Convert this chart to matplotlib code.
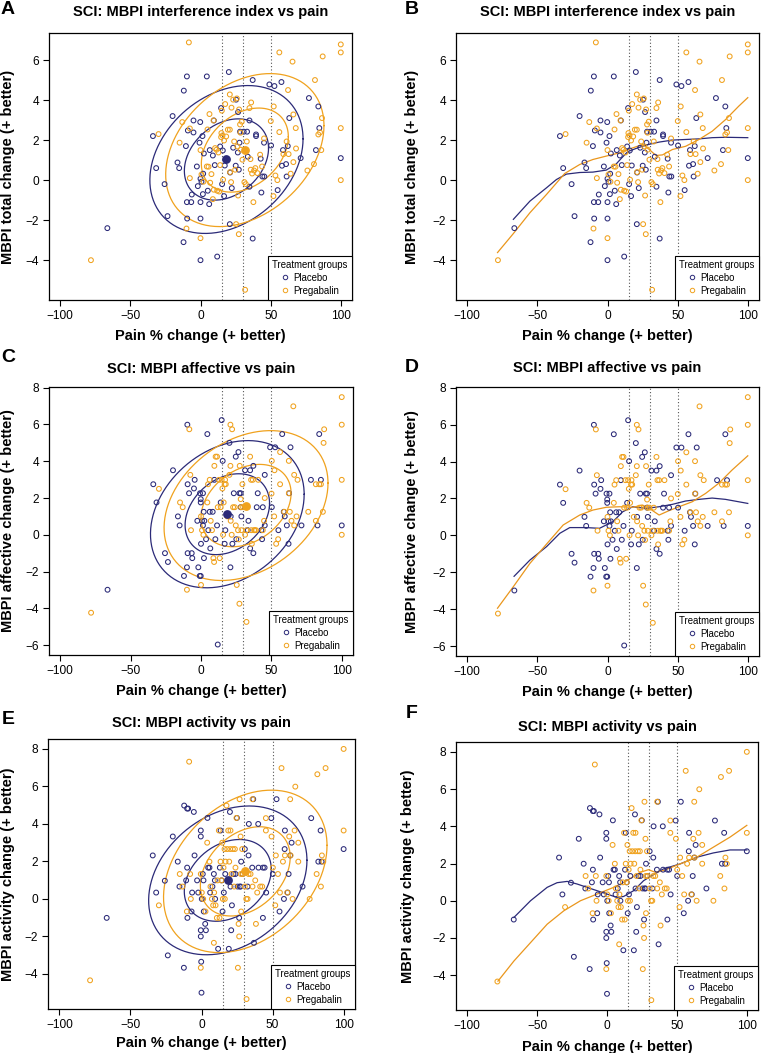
import numpy as np
import matplotlib
matplotlib.use("Agg")
import matplotlib.pyplot as plt
from matplotlib.lines import Line2D

plt.rcParams['font.family'] = ['Liberation Sans', 'DejaVu Sans']

NAVY = '#2b2a78'
ORANGE = '#f0a21e'
ORANGE_LINE = '#ea961c'

# ---- data: interference index (panels A, B) ----
int_pla_x = [-66.4, -33.9, -31.6, -25.6, -23.5, -19.9, -16.4, -15.2, -12.1, -11.9, -10.4, -9.7, -9.7, -9.5, -9.0,
             -6.6, -6.2, -5.0, -5.0, -2.6, -1.9, -0.7, -0.2, 0, 0, 0, 0, 0.7, 1.4, 1.7, 1.9, 2.4, 4.5, 5.2, 6.2,
             6.6, 8.8, 9.5, 10.2, 11.9, 14.0, 14.7, 15.4, 15.9, 17.3, 16.8, 20.2, 20.9, 21.1, 22.3, 23.3, 25.1,
             25.4, 26.6, 26.8, 27.3, 27.8, 28.2, 30.8, 33.2, 33.7, 34.9, 34.9, 37.2, 37.2, 39.6, 39.6, 42.9, 43.4,
             45.3, 44.1, 45.5, 49.1, 50.3, 52.7, 55.0, 58.1, 58.8, 57.7, 61.0, 61.4, 62.2, 63.3, 71.4, 77.3, 82.3,
             84.0, 84.7, 100]
int_pla_y = [-2.4, 2.2, 0.6, -0.2, -1.8, 3.2, 0.88, 0.6, -3.1, 4.47, 1.7, 5.18, -1.1, -1.92, 2.48, -1.1, -0.72,
             2.38, 2.98, 0.68, -0.3, 1.87, 2.9, -4.0, -1.92, -1.1, 0.07, -0.08, 2.2, -0.7, 0.32, 1.33, 5.18, -0.53,
             -1.2, 1.5, 1.23, 2.98, 0.75, -3.82, 1.68, 3.6, -0.2, 1.48, 0.73, -0.8, 5.4, -2.2, 0.38, -0.4, 1.62,
             0.72, 4.02, 1.38, 3.4, 0.52, 1.87, 2.42, 2.42, 2.42, 1.17, -0.33, 2.98, 5.0, -2.92, 2.28, 2.2, 1.07,
             -0.62, 1.87, 0.18, 0.18, 4.78, 1.73, 4.7, -0.5, 0.72, 1.5, 4.9, 0.8, 0.18, 1.7, 3.1, 1.1, 4.1, 1.5,
             3.68, 2.6, 1.1]
int_pre_x = [-78.1, -29.9, -14.9, -13.0, -8.3, -7.6, -7.6, -10.0, 0, 0, 0.7, 2.1, 4.5, 5.0, 5.7, 6.4, 6.9, 7.8,
             8.8, 9.3, 9.5, 10.4, 11.4, 11.9, 12.8, 13.3, 14.0, 14.7, 14.9, 15.2, 15.7, 16.1, 16.8, 17.6, 18.3,
             19.5, 20.9, 20.9, 21.1, 21.8, 22.1, 23.3, 24.0, 24.7, 25.4, 25.9, 26.3, 26.8, 27.3, 27.5, 28.2, 28.5,
             28.7, 29.4, 29.9, 31.3, 31.8, 32.3, 33.0, 34.9, 35.6, 35.8, 36.1, 36.8, 37.7, 38.2, 39.1, 40.6, 42.5,
             43.9, 45.3, 50.1, 52.2, 52.0, 53.4, 54.8, 56.2, 56.2, 59.1, 62.4, 61.4, 62.8, 64.3, 65.6, 66.2, 66.2,
             67.9, 68.1, 76.2, 80.9, 81.6, 84.0, 85.2, 86.1, 86.6, 87.1, 100, 100, 100, 100]
int_pre_y = [-4.0, 2.3, 1.87, 2.9, 6.88, 2.58, 0.1, -2.42, -2.9, 1.5, 0.28, -0.08, 0.68, 2.53, 0.67, 3.3, -0.13,
             0.3, -0.95, 2.98, -0.48, 1.6, 1.52, -0.53, 1.38, -0.57, 0.75, 2.15, 2.35, 3.47, 2.23, 0.02, 1.98, 3.8,
             2.18, 2.52, 2.52, 4.28, 0.4, -0.1, 3.62, 4.02, 1.93, 0.52, -2.2, 4.08, 1.68, -0.77, -2.7, 3.53, 2.78,
             2.37, 1.52, 2.92, 1.02, -0.1, -5.48, -0.2, 1.93, 3.6, 1.05, 0.52, 3.88, 0.33, -1.1, 0.48, 0.6, 0.35,
             1.27, 0.68, 2.08, 2.95, 3.68, -0.8, 0.23, 0.0, 6.38, 2.4, 1.3, 4.5, 1.93, 1.3, 0.32, 5.92, 3.28, 0.9,
             2.6, 1.58, 0.48, 0.8, 5.0, 2.28, 2.38, 1.5, 3.1, 6.18, 2.6, 6.38, 6.78, 0.0]

# ---- data: affective (panels C, D) ----
aff_pla_x = [-66.4, -33.9, -31.6, -25.6, -23.5, -19.9, -16.4, -15.2, -12.1, -9.5, -9.7, -9.5, -10.0, -8.5, -6.6,
             -6.2, -5.0, -4.5, -2.6, -1.9, -0.9, -0.2, -0.7, -0.2, -0.2, 0, 0.7, 1.4, 1.4, 1.9, 2.1, 2.4, 4.5, 3.6,
             5.2, 6.2, 6.6, 8.3, 9.5, 10.2, 11.4, 11.9, 14.0, 14.7, 15.4, 17.3, 16.8, 20.2, 20.9, 21.1, 22.3, 23.3,
             24.7, 25.1, 26.6, 27.3, 28.2, 28.2, 28.7, 31.3, 33.2, 33.7, 34.9, 34.9, 37.2, 37.2, 40.3, 39.6, 42.9,
             43.4, 43.9, 45.3, 45.3, 49.1, 50.3, 52.7, 55.0, 57.7, 58.8, 59.5, 61.0, 62.2, 62.6, 63.6, 71.4, 78.1,
             82.8, 84.0, 85.2, 100]
aff_pla_y = [-2.99, 2.75, 1.76, -1.0, -1.48, 3.51, 1.0, 0.51, -2.24, 2.75, 5.99, -1.0, -1.77, 2.26, -1.0, -1.27,
             2.52, 2.99, 0.76, -1.77, -2.24, -2.24, 2.26, 1.94, 1.76, -0.49, 0.76, 0.51, 2.26, 1.25, -1.27, 0.76,
             5.48, -0.24, 0.25, 1.25, -0.74, 1.25, 2.99, -0.24, 0.51, -5.97, 1.76, 6.24, 4.02, 0.25, -0.49, 5.0,
             -1.77, 1.0, -0.49, 2.26, 4.25, -0.24, 4.5, 2.26, 2.26, 1.5, 1.0, 3.51, 0.25, 0.76, -0.74, 3.51, 3.75,
             -1.0, 2.26, 1.5, 0.25, -0.24, 1.5, 3.26, 0.51, 4.76, 1.5, 4.76, 0.25, 5.48, 1.25, 1.0, 0.51, -0.49,
             2.26, 4.76, 0.51, 2.99, 0.51, 5.48, 2.99, 0.51]
aff_pre_x = [-78.1, -29.9, -14.9, -13.0, -8.3, -7.6, -7.1, -10.0, 0, 0, 0.7, 1.7, 4.5, 5.0, 6.2, 6.9, 7.8, 8.8,
             9.3, 9.5, 10.4, 11.4, 11.9, 12.8, 13.3, 14.0, 14.7, 15.2, 15.7, 16.1, 16.8, 17.1, 17.6, 18.7, 20.2,
             20.9, 20.9, 21.1, 21.8, 22.1, 22.8, 24.0, 24.7, 25.4, 26.3, 26.8, 27.3, 27.5, 28.2, 28.5, 28.7, 29.4,
             29.9, 31.3, 32.3, 32.3, 33.0, 34.9, 35.6, 35.8, 36.1, 36.8, 37.7, 38.2, 39.1, 40.6, 43.9, 44.8, 45.3,
             50.1, 50.3, 52.0, 52.2, 53.4, 54.8, 56.2, 56.2, 59.1, 62.4, 62.4, 63.1, 64.3, 65.6, 66.2, 66.2, 67.9,
             68.6, 76.2, 81.6, 81.6, 84.0, 85.2, 86.6, 87.1, 87.5, 100, 100, 100, 100]
aff_pre_y = [-4.24, 2.5, 1.76, 1.5, 5.74, 3.26, 0.25, -2.99, -2.73, 1.0, 0.25, 0.0, 1.76, 2.75, 2.99, 0.76, 0.25,
             -1.27, -1.48, 3.75, 4.25, 4.25, 1.5, 2.99, -1.27, 1.5, 2.99, 2.52, 0.0, 1.76, 2.75, 2.99, 2.75, 1.0,
             3.26, 3.75, 5.99, 0.76, 0.0, 5.74, 1.5, 1.5, 0.51, -2.73, 0.25, -0.25, -3.75, 3.75, 1.94, 1.5, 0.25,
             2.75, 1.5, 0.0, -4.74, 0.25, 1.5, 4.25, 2.99, 0.25, -0.49, 2.99, 0.25, 0.25, 0.25, 2.99, 0.25, 0.76,
             2.0, 2.24, 4.02, 1.0, 3.51, -0.49, -0.24, 2.75, 4.5, 1.25, 4.02, 2.26, 1.25, 0.76, 6.99, 3.26, 0.51,
             1.0, 2.99, 1.25, 0.76, 2.75, 2.75, 2.75, 1.25, 5.0, 5.74, 7.49, 5.99, 2.99, 0.0]

# ---- data: activity (panels E, F) ----
act_pla_x = [-66.7, -34.3, -31.9, -25.8, -23.7, -20.2, -16.7, -15.5, -12.4, -12.2, -10.8, -10.1, -9.9, -9.4, -10.1,
             -7.0, -6.6, -5.4, -4.9, -3.1, -2.3, -0.5, -0.5, -0.5, -0.5, -0.2, 0, 0.2, 0.9, 1.4, 1.6, 2.6, 3.1, 4.2,
             4.7, 5.6, 6.1, 7.7, 8.7, 9.4, 9.6, 11.7, 12.9, 13.4, 14.1, 14.8, 15.7, 16.7, 19.2, 20.0, 20.4, 20.9,
             21.4, 22.5, 23.9, 24.9, 25.4, 26.5, 27.0, 27.9, 27.5, 28.9, 30.5, 32.4, 33.3, 33.1, 35.7, 36.4, 36.9,
             39.9, 40.1, 43.2, 43.2, 44.4, 45.5, 49.1, 50.2, 52.8, 54.9, 58.0, 58.5, 58.7, 60.6, 61.3, 62.4, 63.4,
             71.1, 77.2, 82.2, 83.8, 84.5, 100]
act_pla_y = [-1.01, 2.32, 0.34, 0.97, -3.01, 3.33, 1.99, 0.66, -3.67, 4.98, 0.99, 4.82, -1.01, 4.82, 1.67, -0.67,
             0.34, 4.64, 2.32, 0.99, 0.34, 3.65, 3.33, -1.67, -2.0, -3.35, -5.0, 0.0, 1.33, 0.99, -0.67, -1.33,
             -1.67, 4.32, 1.67, 1.67, 0.34, 0.66, 1.33, 0.99, 0.0, -2.66, 1.67, 3.65, 0.99, -0.67, 0.34, 1.33,
             -2.66, 4.64, 0.66, -1.67, -0.34, 1.33, 1.33, 4.32, 0.66, -1.01, 0.66, 1.99, 0.66, 1.33, 2.66, 0.66,
             4.0, 2.32, 1.67, 5.32, -2.34, 4.0, 1.67, -1.01, 1.67, 1.67, 0.34, 4.31, 1.33, 5.32, -0.67, 0.0, 2.66,
             3.65, 0.34, 1.33, 2.32, 3.0, 0.66, 4.31, 1.99, 3.65, 1.99, 2.66]
act_pre_x = [-78.4, -30.0, -15.3, -13.4, -8.7, -8.0, -7.5, -10.3, -0.5, -0.5, 0.2, 1.2, 2.8, 4.0, 5.6, 6.3, 7.3,
             8.2, 8.7, 8.9, 9.9, 10.8, 11.3, 12.2, 12.7, 13.4, 14.1, 14.6, 15.0, 15.5, 16.2, 16.4, 16.9, 17.6, 18.1,
             18.8, 19.5, 20.2, 20.4, 21.1, 22.1, 23.0, 23.5, 23.9, 24.6, 25.6, 26.1, 26.5, 26.8, 27.5, 27.7, 27.9,
             28.6, 29.1, 30.5, 31.5, 31.7, 32.4, 33.1, 34.5, 35.9, 35.9, 37.8, 38.3, 39.2, 41.3, 42.7, 45.3, 45.3,
             49.3, 50.2, 51.9, 52.3, 53.8, 55.2, 56.3, 57.3, 58.7, 60.3, 61.7, 62.4, 62.7, 64.1, 65.5, 66.0, 68.1,
             68.1, 76.1, 81.0, 81.5, 84.0, 84.7, 85.7, 87.3, 100, 100]
act_pre_y = [-4.34, -0.34, 1.33, 0.66, 7.32, 1.33, 0.0, -0.67, -3.67, 1.33, 0.34, 0.0, -0.67, 3.0, 1.99, 0.66, 0.0,
             -0.34, -2.34, 0.34, -0.34, -1.01, 0.99, 3.65, -1.01, 1.99, 0.99, 3.0, 0.0, 1.67, 2.66, 0.0, 1.99, 4.98,
             2.66, 3.65, 1.99, 2.66, 3.65, 1.33, 2.66, 0.66, 2.66, 1.67, 4.32, -3.67, -1.33, -2.0, 5.32, 3.33, 1.33,
             -0.67, 2.66, 1.33, 0.66, 0.0, -5.34, 0.0, 1.33, 1.33, 5.32, 0.66, 0.99, -1.33, 0.34, 0.66, 0.66, 4.31,
             3.65, 3.33, 1.67, -0.34, 2.32, 1.33, 0.34, 6.98, 1.99, 2.32, 0.34, 3.33, 5.32, 2.32, 0.0, 3.65, 5.99,
             3.0, 1.99, 0.0, 1.33, 6.65, 0.66, 2.32, 1.99, 6.98, 8.0, 3.65]

# group means [placebo, pregabalin] and ellipse parameters (sd x, sd y, r)
int_means = [(18.5, 1.03), (31.6, 1.5)]
aff_means = [(18.7, 1.12), (32.0, 1.59)]
act_means = [(18.5, 0.99), (30.8, 1.47)]
int_ell = [(30.0, 2.03, 0.28), (31.0, 2.1, 0.32)]
aff_ell = [(30.0, 2.2, 0.27), (32.0, 2.24, 0.30)]
act_ell = [(30.6, 2.18, 0.27), (31.6, 2.38, 0.32)]
ell_levels = [1.0, 1.82]

# smoother curves
int_fit_pla_x = [-67.1, -55.3, -43.4, -36.4, -29.3, -19.8, -10.4, -0.9, 6.1, 10, 14.4, 20.3, 27.4, 36.8, 46.3, 55.7, 65.2, 74.6, 84.1, 100]
int_fit_pla_y = [-1.96, -1.05, -0.38, 0.03, 0.3, 0.38, 0.4, 0.5, 0.8, 1.1, 1.42, 1.58, 1.75, 1.9, 2.0, 2.03, 2.06, 2.12, 2.14, 2.12]
int_fit_pre_x = [-78.4, -67.1, -55.3, -43.4, -30.5, -19.8, -10.4, -0.9, 8.5, 18.0, 25.0, 29.8, 34.5, 39.2, 46.3, 55.7, 65.2, 74.6, 84.1, 93.5, 100]
int_fit_pre_y = [-3.62, -2.67, -1.63, -0.71, 0.33, 0.78, 1.03, 1.2, 1.36, 1.61, 1.78, 1.53, 1.23, 1.26, 1.53, 1.69, 2.03, 2.44, 3.02, 3.69, 4.12]
aff_fit_pla_x = [-66.6, -55.3, -43.4, -34.0, -26.9, -15.1, -5.7, 3.8, 10.9, 18.0, 27.4, 36.8, 46.3, 55.7, 65.2, 74.6, 84.1, 100]
aff_fit_pla_y = [-2.22, -1.34, -0.61, 0.11, 0.42, 0.42, 0.38, 0.74, 1.28, 1.55, 1.46, 1.55, 1.68, 1.86, 1.95, 2.02, 1.95, 1.73]
aff_fit_pre_x = [-78.4, -67.1, -55.3, -43.4, -31.6, -19.8, -10.4, -0.9, 8.5, 18.0, 25.0, 29.8, 36.8, 43.9, 51.0, 60.4, 69.9, 79.3, 88.8, 100]
aff_fit_pre_y = [-3.95, -2.78, -1.52, -0.47, 0.56, 1.1, 1.37, 1.52, 1.55, 1.52, 1.64, 1.46, 1.1, 1.34, 1.55, 1.82, 2.27, 2.82, 3.54, 4.31]
act_fit_pla_x = [-66.6, -54.7, -42.8, -35.7, -28.5, -21.4, -14.3, -7.1, 0, 7.1, 11.9, 19.0, 26.2, 32.1, 40.4, 52.3, 64.2, 76.1, 88.0, 100]
act_fit_pla_y = [-0.9, 0.0, 0.72, 0.97, 1.04, 0.9, 0.72, 0.54, 0.36, 0.18, 0.23, 0.54, 1.08, 1.35, 1.71, 1.98, 2.34, 2.57, 2.73, 2.73]
act_fit_pre_x = [-78.0, -66.6, -54.7, -42.8, -30.9, -19.0, -7.1, 4.8, 14.3, 23.8, 29.7, 34.5, 40.4, 52.3, 64.2, 76.1, 88.0, 100]
act_fit_pre_y = [-4.32, -3.24, -2.25, -1.26, -0.54, 0.0, 0.36, 0.72, 1.08, 1.53, 1.67, 1.53, 1.62, 1.98, 2.34, 2.88, 3.42, 4.05]

cutoffs = [15, 30, 50]
xticks = [-100, -50, 0, 50, 100]

W, H = 761, 1053
fig = plt.figure(figsize=(W / 100, H / 100), dpi=100)


def rect(l, t, r, b):
    return [l / W, 1 - b / H, (r - l) / W, (b - t) / H]


def base_axes(box, ylim, yticks):
    ax = fig.add_axes(rect(*box))
    ax.set_xlim(-108, 108)
    ax.set_ylim(*ylim)
    ax.set_xticks(xticks)
    ax.set_yticks(yticks)
    ax.set_yticklabels([str(t).replace('-', '\u2212') for t in yticks])
    ax.set_xticklabels([str(t).replace('-', '\u2212') for t in xticks])
    ax.tick_params(direction='out', length=4, width=0.8, labelsize=8.6, pad=3)
    for s in ax.spines.values():
        s.set_linewidth(0.9)
    for c in cutoffs:
        ax.axvline(c, color='#555555', ls=(0, (1, 2)), lw=0.8, zorder=1)
    return ax


def points(ax, px, py, qx, qy):
    ax.scatter(px, py, s=12, facecolors='none', edgecolors=NAVY, linewidths=0.75, zorder=3)
    ax.scatter(qx, qy, s=12, facecolors='none', edgecolors=ORANGE, linewidths=0.75, zorder=3)


def legend(ax):
    h = [Line2D([], [], ls='none', marker='o', mfc='none', mec=NAVY, ms=3.2, mew=0.7),
         Line2D([], [], ls='none', marker='o', mfc='none', mec=ORANGE, ms=3.2, mew=0.7)]
    lg = ax.legend(h, ['Placebo', 'Pregabalin'], title='Treatment groups', loc='lower right',
                   fontsize=6.9, title_fontsize=6.9, borderaxespad=0, frameon=True, fancybox=False,
                   framealpha=1, edgecolor='black', handlelength=0.8, handletextpad=0.4,
                   labelspacing=0.3, borderpad=0.45)
    lg.get_frame().set_linewidth(0.8)
    lg.set_zorder(5)


def ellipses(ax, means, pars):
    t = np.linspace(0, 2 * np.pi, 200)
    for (mx, my), (sx, sy, r), col in zip(means, pars, [NAVY, ORANGE]):
        d = np.arccos(r)
        for k in ell_levels:
            ax.plot(mx + k * sx * np.cos(t), my + k * sy * np.cos(t + d), color=col, lw=0.9, zorder=2)
        ax.scatter([mx], [my], s=28, color=col, zorder=4)


def labels(box, letter, title, ylab, xlab_y, ylab_x, title_y, letter_x, letter_y):
    l, t, r, b = box
    fig.text(letter_x / W, 1 - letter_y / H, letter, fontsize=14, fontweight='bold', ha='center', va='center')
    fig.text((l + r) / 2 / W, 1 - title_y / H, title, fontsize=10.5, fontweight='bold', ha='center', va='center')
    fig.text((l + r) / 2 / W, 1 - xlab_y / H, 'Pain % change (+ better)', fontsize=10.5,
             fontweight='bold', ha='center', va='center')
    fig.text(ylab_x / W, 1 - (t + b) / 2 / H, ylab, fontsize=10.5, fontweight='bold',
             ha='center', va='center', rotation=90)


rows = [
    dict(data=(int_pla_x, int_pla_y, int_pre_x, int_pre_y), means=int_means, ell=int_ell,
         fit=(int_fit_pla_x, int_fit_pla_y, int_fit_pre_x, int_fit_pre_y),
         ylim=(-5.99, 7.35), yticks=[-4, -2, 0, 2, 4, 6], title='SCI: MBPI interference index vs pain',
         ylab='MBPI total change (+ better)', boxes=[(49, 33, 352, 300), (456, 33, 759, 300)],
         letters=('A', 'B'), letter_y=(9, 10), title_y=(12, 12), xlab_y=(336, 336), ylab_x=(8, 412)),
    dict(data=(aff_pla_x, aff_pla_y, aff_pre_x, aff_pre_y), means=aff_means, ell=aff_ell,
         fit=(aff_fit_pla_x, aff_fit_pla_y, aff_fit_pre_x, aff_fit_pre_y),
         ylim=(-6.54, 8.04), yticks=[-6, -4, -2, 0, 2, 4, 6, 8], title='SCI: MBPI affective vs pain',
         ylab='MBPI affective change (+ better)', boxes=[(49, 387, 353, 655), (456, 387, 759, 656)],
         letters=('C', 'D'), letter_y=(357, 367), title_y=(369, 368), xlab_y=(691, 692), ylab_x=(8, 412)),
    dict(data=(act_pla_x, act_pla_y, act_pre_x, act_pre_y), means=act_means, ell=act_ell,
         fit=(act_fit_pla_x, act_fit_pla_y, act_fit_pre_x, act_fit_pre_y),
         ylim=(-5.87, 8.53), yticks=[-4, -2, 0, 2, 4, 6, 8], title='SCI: MBPI activity vs pain',
         ylab='MBPI activity change (+ better)', boxes=[(48, 739, 355, 1009), (456, 742, 758, 1010)],
         letters=('E', 'F'), letter_y=(720, 713), title_y=(723, 727), xlab_y=(1043, 1047), ylab_x=(8, 408)),
]

for row in rows:
    for j in range(2):
        ax = base_axes(row['boxes'][j], row['ylim'], row['yticks'])
        points(ax, *row['data'])
        if j == 0:
            ellipses(ax, row['means'], row['ell'])
        else:
            fx, fy, gx, gy = row['fit']
            ax.plot(fx, fy, color=NAVY, lw=0.9, zorder=2)
            ax.plot(gx, gy, color=ORANGE_LINE, lw=0.9, zorder=2)
        legend(ax)
        letter_x = 8 if j == 0 else 412
        labels(row['boxes'][j], row['letters'][j], row['title'], row['ylab'], row['xlab_y'][j],
               row['ylab_x'][j], row['title_y'][j], letter_x, row['letter_y'][j])

fig.savefig('out.png', dpi=100)
